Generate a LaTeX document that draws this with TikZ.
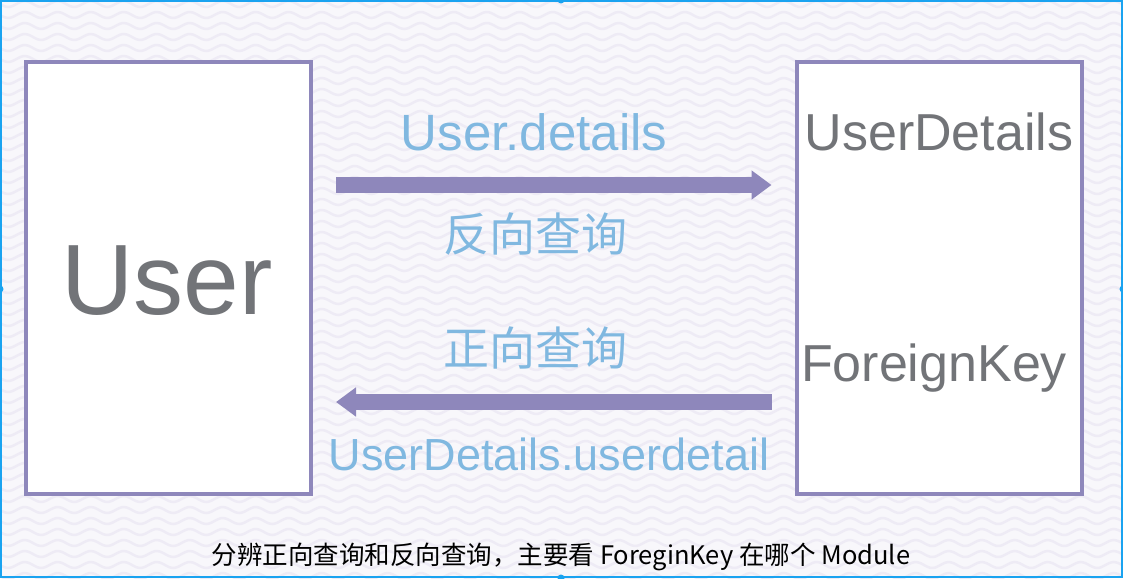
\documentclass[tikz,border=0pt]{standalone}
\usepackage{fontspec}
\setmainfont{Liberation Sans}
\newfontfamily\cjkfont{Noto Sans CJK SC}
\usetikzlibrary{arrows.meta}
\definecolor{boxpurple}{HTML}{8E87BB}
\definecolor{labelblue}{HTML}{80B8E0}
\definecolor{namegray}{HTML}{727478}
\definecolor{paper}{HTML}{F8F7FB}
\definecolor{wave}{HTML}{EEEBF5}
\definecolor{selcyan}{HTML}{1AA3F0}

\begin{document}
\begin{tikzpicture}[x=1pt,y=-1pt,
  modelbox/.style={draw=boxpurple,line width=4pt,fill=white,minimum width=285pt,minimum height=432pt,inner sep=0pt},
  modelname/.style={text=namegray,anchor=base,inner sep=0pt},
  querylabel/.style={text=labelblue,inner sep=0pt},
  fatarrow/.style={draw=boxpurple,line width=16pt,-{Triangle[width=28pt,length=20pt]}}]
  \useasboundingbox (0,0) rectangle (1123,578);
  \fill[paper] (0,0) rectangle (1123,578);
  %\draw[wave] (0,0) -- (1123,0);
  \foreach \row in {4,15,...,580}
    \draw[wave,line width=2.5pt] plot[domain=0:1123,samples=240,smooth] (\x,{\row+3*sin(10.909*\x)});

  \node[modelbox] (user) at (168.5,278) {};
  \node[modelbox] (details) at (939,278) {};
  \node[modelname,font=\fontsize{100}{100}\selectfont] (username) at (167,314) {User};
  \node[modelname,font=\fontsize{52}{52}\selectfont] (detname) at (939,150) {UserDetails};
  \node[modelname,font=\fontsize{52}{52}\selectfont] (fkname) at (934,381) {ForeignKey};

  \draw[fatarrow] ([xshift=23pt,yshift=93pt]user.east) -- ([xshift=-23pt,yshift=93pt]details.west);
  \draw[fatarrow] ([xshift=-23pt,yshift=-124pt]details.west) -- ([xshift=23pt,yshift=-124pt]user.east);

  \node[querylabel,anchor=base,font=\fontsize{51}{51}\selectfont] (revattr) at (534,150) {User.details};
  \node[querylabel,font=\cjkfont\fontsize{46}{46}\selectfont] (revtext) at (535,234) {反向查询};
  \node[querylabel,font=\cjkfont\fontsize{46}{46}\selectfont] (fwdtext) at (535,348) {正向查询};
  \node[querylabel,anchor=base,font=\fontsize{45}{45}\selectfont] (fwdattr) at (549,470) {UserDetails.userdetail};
  \node[font=\cjkfont\fontsize{25.5}{25.5}\selectfont] (caption) at (561,557) {分辨正向查询和反向查询，主要看 ForeginKey 在哪个 Module};

  \draw[selcyan,line width=2pt] (1,1) rectangle (1122,577);
  \foreach \hx/\hy in {0/289,1123/289,561/0,561/578}
    \fill[selcyan] (\hx,\hy) circle (3.5pt);
\end{tikzpicture}
\end{document}
